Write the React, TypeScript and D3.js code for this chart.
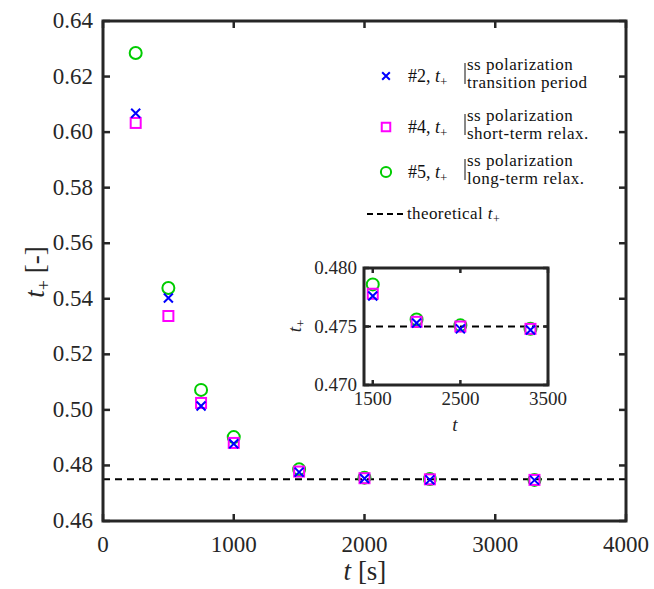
import React from "react";
import * as d3 from "d3";

const tValues = [250, 500, 750, 1000, 1500, 2000, 2500, 3300];
const series2 = [0.6068, 0.5403, 0.5014, 0.4878, 0.4776, 0.4753, 0.4748, 0.4747];
const series4 = [0.6033, 0.5338, 0.5025, 0.4881, 0.4778, 0.4754, 0.4750, 0.4748];
const series5 = [0.6285, 0.5439, 0.5072, 0.4902, 0.4786, 0.4756, 0.4751, 0.4748];
const theoretical = 0.475;
const xTicks = [0, 1000, 2000, 3000, 4000];
const yTicks = [0.46, 0.48, 0.5, 0.52, 0.54, 0.56, 0.58, 0.6, 0.62, 0.64];
const insetXTicks = [1500, 2500, 3500];
const insetYTicks = [0.47, 0.475, 0.48];
const legendLabels = [
  { id: "#2", sub: "transition period", kind: "x" },
  { id: "#4", sub: "short-term relax.", kind: "sq" },
  { id: "#5", sub: "long-term relax.", kind: "o" },
];

const BLUE = "#0000ff";
const MAG = "#ff00ff";
const GREEN = "#00cc00";
const AX = "#262626";
const FS = { fontFamily: '"Times New Roman"' };

function Marker({ kind, x, y, s = 1 }: { kind: string; x: number; y: number; s?: number }) {
  if (kind === "x") {
    const r = 4.5 * s;
    return (
      <path d={`M${x - r},${y - r}L${x + r},${y + r}M${x - r},${y + r}L${x + r},${y - r}`} stroke={BLUE} strokeWidth={2} fill="none" />
    );
  }
  if (kind === "sq") {
    const r = 5 * s;
    return <rect x={x - r} y={y - r} width={2 * r} height={2 * r} stroke={MAG} strokeWidth={2} fill="none" />;
  }
  return <circle cx={x} cy={y} r={6 * s} stroke={GREEN} strokeWidth={2} fill="none" />;
}

export default function App() {
  const W = 654, H = 589;
  const x = d3.scaleLinear().domain([0, 4000]).range([103, 626]);
  const y = d3.scaleLinear().domain([0.46, 0.64]).range([521, 21]);
  const ix = d3.scaleLinear().domain([1400, 3500]).range([364, 548]);
  const iy = d3.scaleLinear().domain([0.47, 0.48]).range([385, 268]);

  const drawSeries = (sx: any, sy: any, filter: (t: number) => boolean, s: number) => (
    <g>
      {tValues.map((t, i) => filter(t) && <Marker key={"o" + i} kind="o" x={sx(t)} y={sy(series5[i])} s={s} />)}
      {tValues.map((t, i) => filter(t) && <Marker key={"s" + i} kind="sq" x={sx(t)} y={sy(series4[i])} s={s} />)}
      {tValues.map((t, i) => filter(t) && <Marker key={"x" + i} kind="x" x={sx(t)} y={sy(series2[i])} s={s} />)}
    </g>
  );

  const tick = 7;
  const legendYs = [76, 127, 172];

  return (
    <svg width={W} height={H} style={{ position: "absolute", left: 0, top: 0 }}>
      <rect width={W} height={H} fill="#fff" />
      <line x1={x(0)} x2={x(4000)} y1={y(theoretical)} y2={y(theoretical)} stroke="#000" strokeWidth={2} strokeDasharray="7,5" />
      {drawSeries(x, y, () => true, 1)}
      <rect x={103} y={21} width={523} height={500} fill="none" stroke={AX} strokeWidth={3} />
      {xTicks.map((t) => (
        <g key={t}>
          <line x1={x(t)} x2={x(t)} y1={521} y2={521 - tick} stroke={AX} strokeWidth={2.5} />
          <line x1={x(t)} x2={x(t)} y1={21} y2={21 + tick} stroke={AX} strokeWidth={2.5} />
          <text style={FS} x={x(t)} y={552} textAnchor="middle" fontSize={23} fill={AX}>{t}</text>
        </g>
      ))}
      {yTicks.map((v) => (
        <g key={v}>
          <line x1={103} x2={103 + tick} y1={y(v)} y2={y(v)} stroke={AX} strokeWidth={2.5} />
          <line x1={626} x2={626 - tick} y1={y(v)} y2={y(v)} stroke={AX} strokeWidth={2.5} />
          <text style={FS} x={93} y={y(v) + 7} textAnchor="end" fontSize={23} fill={AX}>{v.toFixed(2)}</text>
        </g>
      ))}
      <text style={FS} x={365} y={580} textAnchor="middle" fontSize={27} fill={AX}>
        <tspan fontStyle="italic">t</tspan> [s]
      </text>
      <g transform="translate(44,272) rotate(-90)">
        <text style={FS} x={0} y={0} textAnchor="middle" fontSize={27} fill={AX}>
          <tspan fontStyle="italic">t</tspan>
          <tspan fontSize={18} dy={6}>+</tspan>
          <tspan dy={-6}> [-]</tspan>
        </text>
      </g>

      {legendLabels.map((l, i) => {
        const ly = legendYs[i];
        return (
          <g key={l.id}>
            <Marker kind={l.kind} x={386} y={ly} s={0.85} />
            <text style={FS} x={408} y={ly + 6} fontSize={18} fill="#111">
              {l.id}, <tspan fontStyle="italic">t</tspan>
              <tspan fontSize={13} dy={4}>+</tspan>
            </text>
            <line x1={465} x2={465} y1={ly - 13} y2={ly + 8} stroke="#111" strokeWidth={1} />
            <text style={FS} x={467} y={ly - 6} fontSize={17} fill="#111" letterSpacing={0.5}>ss polarization</text>
            <text style={FS} x={467} y={ly + 12} fontSize={17} fill="#111" letterSpacing={0.5}>{l.sub}</text>
          </g>
        );
      })}
      <line x1={367} x2={404} y1={214} y2={214} stroke="#000" strokeWidth={2} strokeDasharray="6,4" />
      <text style={FS} x={407} y={219} fontSize={17} fill="#111" letterSpacing={0.4}>
        theoretical <tspan fontStyle="italic">t</tspan>
        <tspan fontSize={12} dy={4}>+</tspan>
      </text>

      <rect x={364} y={268} width={184} height={117} fill="#fff" />
      <line x1={ix(1400)} x2={ix(3500)} y1={iy(theoretical)} y2={iy(theoretical)} stroke="#000" strokeWidth={2} strokeDasharray="7,5" />
      {drawSeries(ix, iy, (t) => t >= 1500, 1)}
      <rect x={364} y={268} width={184} height={117} fill="none" stroke={AX} strokeWidth={3} />
      {insetXTicks.map((t) => (
        <g key={t}>
          <line x1={ix(t)} x2={ix(t)} y1={385} y2={385 - 5} stroke={AX} strokeWidth={2.5} />
          <line x1={ix(t)} x2={ix(t)} y1={268} y2={268 + 5} stroke={AX} strokeWidth={2.5} />
          <text style={FS} x={ix(t)} y={405} textAnchor="middle" fontSize={19} fill={AX}>{t}</text>
        </g>
      ))}
      {insetYTicks.map((v) => (
        <g key={v}>
          <line x1={364} x2={369} y1={iy(v)} y2={iy(v)} stroke={AX} strokeWidth={2.5} />
          <line x1={548} x2={543} y1={iy(v)} y2={iy(v)} stroke={AX} strokeWidth={2.5} />
          <text style={FS} x={357} y={iy(v) + 6} textAnchor="end" fontSize={19} fill={AX}>{v.toFixed(3)}</text>
        </g>
      ))}
      <text style={FS} x={455} y={431} textAnchor="middle" fontSize={19} fontStyle="italic" fill={AX}>t</text>
      <g transform="translate(301,326) rotate(-90)">
        <text style={FS} x={0} y={0} textAnchor="middle" fontSize={19} fill={AX}>
          <tspan fontStyle="italic">t</tspan>
          <tspan fontSize={13} dy={4}>+</tspan>
        </text>
      </g>
    </svg>
  );
}
